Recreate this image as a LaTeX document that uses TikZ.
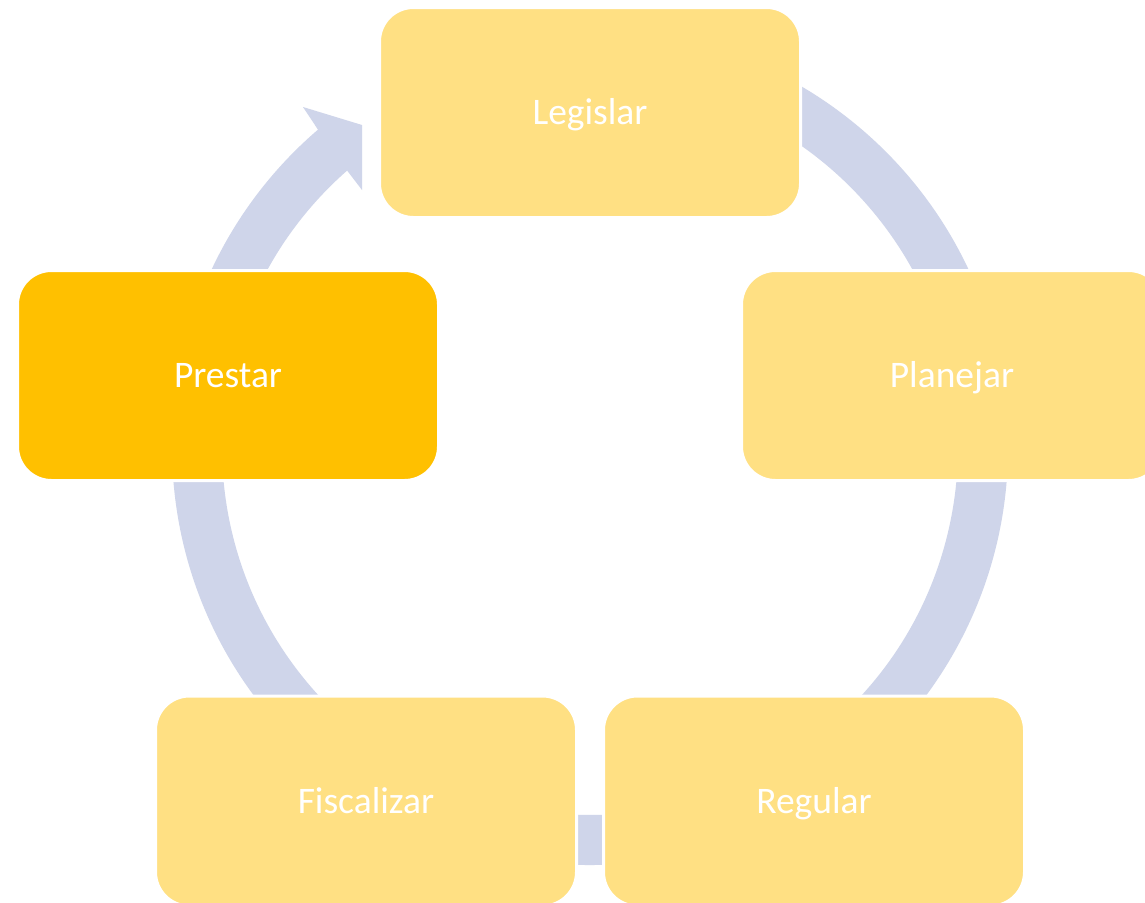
\documentclass[tikz,border=0pt]{standalone}
\usepackage{fontspec}
\setmainfont{Carlito}
\definecolor{boxlight}{HTML}{FFE083}
\definecolor{boxdark}{HTML}{FFC000}
\definecolor{ringcol}{HTML}{CFD5EA}
\tikzset{
  stagebox/.style={rectangle, rounded corners=34pt, draw=white, line width=3pt,
    minimum width=421pt, minimum height=210pt, inner sep=0pt,
    text=white, font=\fontsize{37.5}{45}\selectfont, text height=24.1pt, text depth=0pt},
  lightbox/.style={stagebox, fill=boxlight},
  darkbox/.style={stagebox, fill=boxdark},
  ringfill/.style={fill=ringcol}
}
\begin{document}
\begin{tikzpicture}[x=1pt,y=1pt]
\useasboundingbox (0,0) rectangle (1145,-902);
\fill[white] (0,0) rectangle (1145,-902);
\clip (0,0) rectangle (1145,-902);
\coordinate (C) at (590,-447);
% circular arrow behind the boxes
\fill[ringfill] ([shift={(C)}]455:418) arc[start angle=455, end angle=130.6, radius=418]
  -- (303,-107) -- (362,-125) -- (362,-190)
  -- ([shift={(C)}]131.3:368) arc[start angle=131.3, end angle=455, radius=368] -- cycle;
% stages
\node[lightbox] (legislar) at (590,-112.5) {Legislar};
\node[lightbox] (planejar) at (952,-375.5) {Planejar};
\node[lightbox] (regular) at (814,-801) {Regular};
\node[lightbox] (fiscalizar) at (366,-801) {Fiscalizar};
\node[darkbox] (prestar) at (228,-375.5) {Prestar};
\end{tikzpicture}
\end{document}
